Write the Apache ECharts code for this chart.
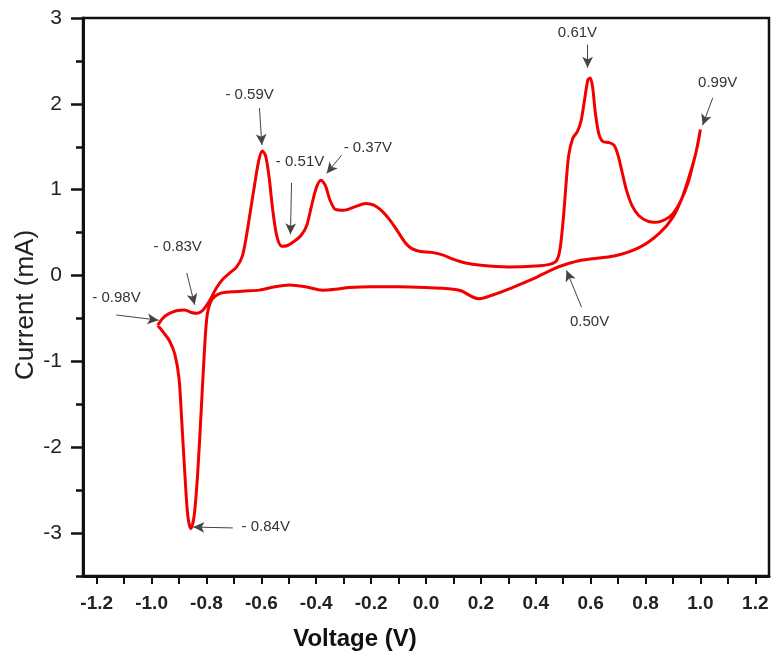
<!DOCTYPE html>
<html>
<head>
<meta charset="utf-8">
<script src="https://cdn.jsdelivr.net/npm/echarts@6/dist/echarts.min.js"></script>
<style>
  html, body { margin: 0; padding: 0; background: #fff; }
  #chart { width: 772px; height: 656px; }
</style>
</head>
<body>
<div id="chart"></div>
<script>
// forward (anodic) scan, from the left vertex to 1.0 V
var forwardVoltage = [-0.978, -0.96, -0.94, -0.91, -0.88, -0.855, -0.835, -0.815, -0.79, -0.765,
    -0.74, -0.715, -0.69, -0.67, -0.655, -0.64, -0.625, -0.61, -0.597, -0.585,
    -0.572, -0.558, -0.543, -0.525, -0.505, -0.48, -0.455, -0.435, -0.418, -0.40,
    -0.383, -0.367, -0.35, -0.33, -0.30, -0.26, -0.22, -0.19, -0.16, -0.13,
    -0.10, -0.075, -0.05, -0.02, 0.02, 0.06, 0.10, 0.14, 0.20, 0.30,
    0.40, 0.45, 0.475, 0.488, 0.50, 0.51, 0.52, 0.535, 0.552, 0.565,
    0.578, 0.59, 0.598, 0.607, 0.617, 0.63, 0.645, 0.665, 0.685, 0.70,
    0.715, 0.73, 0.75, 0.775, 0.81, 0.84, 0.87, 0.90, 0.93, 0.955,
    0.975, 0.99, 1.0];
var forwardCurrent = [-0.58, -0.50, -0.45, -0.41, -0.40, -0.43, -0.44, -0.41, -0.30, -0.15,
    -0.04, 0.03, 0.10, 0.22, 0.45, 0.75, 1.05, 1.33, 1.45, 1.40,
    1.15, 0.75, 0.45, 0.34, 0.35, 0.40, 0.47, 0.58, 0.80, 1.02,
    1.11, 1.05, 0.88, 0.77, 0.76, 0.80, 0.84, 0.82, 0.75, 0.64,
    0.50, 0.38, 0.31, 0.28, 0.27, 0.24, 0.19, 0.15, 0.12, 0.10,
    0.11, 0.13, 0.17, 0.30, 0.65, 1.05, 1.40, 1.60, 1.68, 1.80,
    2.05, 2.28, 2.30, 2.20, 1.90, 1.65, 1.56, 1.55, 1.52, 1.40,
    1.20, 1.00, 0.82, 0.70, 0.63, 0.62, 0.65, 0.72, 0.88, 1.08,
    1.32, 1.52, 1.70];

// reverse (cathodic) scan, from 1.0 V back to the left vertex
var reverseVoltage = [0.985, 0.97, 0.935, 0.90, 0.85, 0.78, 0.69, 0.57, 0.50, 0.46,
    0.39, 0.315, 0.24, 0.195, 0.17, 0.13, 0.10, 0.0, -0.1, -0.2,
    -0.28, -0.33, -0.377, -0.44, -0.497, -0.55, -0.607, -0.66, -0.705, -0.752,
    -0.78, -0.797, -0.807, -0.818, -0.832, -0.845, -0.857, -0.868, -0.879, -0.89,
    -0.90, -0.915, -0.935, -0.955, -0.978];
var reverseCurrent = [1.45, 1.27, 0.92, 0.68, 0.49, 0.33, 0.23, 0.18, 0.12, 0.07,
    -0.04, -0.14, -0.23, -0.27, -0.25, -0.18, -0.16, -0.14, -0.13, -0.13,
    -0.14, -0.16, -0.17, -0.13, -0.11, -0.13, -0.17, -0.18, -0.19, -0.21,
    -0.28, -0.45, -0.85, -1.50, -2.30, -2.80, -2.95, -2.80, -2.30, -1.70,
    -1.20, -0.92, -0.76, -0.67, -0.58];

var xTickLabels = [-1.2, -1.0, -0.8, -0.6, -0.4, -0.2, 0.0, 0.2, 0.4, 0.6, 0.8, 1.0, 1.2];
var xTicks = [-1.2, -1.1, -1.0, -0.9, -0.8, -0.7, -0.6, -0.5, -0.4, -0.3, -0.2, -0.1, 0.0,
    0.1, 0.2, 0.3, 0.4, 0.5, 0.6, 0.7, 0.8, 0.9, 1.0, 1.1, 1.2];
var yTickLabels = [-3, -2, -1, 0, 1, 2, 3];
var yMinorTicks = [-3.5, -2.5, -1.5, -0.5, 0.5, 1.5, 2.5];

// peak annotations: text, text centre, arrow tail, arrow head (data units)
var annotations = [
    { text: '0.61V',   at: [0.552, 2.83],   from: [0.589, 2.69],   to: [0.589, 2.42] },
    { text: '0.99V',   at: [1.063, 2.25],   from: [1.045, 2.07],   to: [1.008, 1.75] },
    { text: '0.50V',   at: [0.596, -0.54],  from: [0.567, -0.37],  to: [0.512, 0.06] },
    { text: '- 0.59V', at: [-0.643, 2.10],  from: [-0.607, 1.95],  to: [-0.598, 1.52] },
    { text: '- 0.51V', at: [-0.459, 1.32],  from: [-0.49, 1.08],   to: [-0.494, 0.48] },
    { text: '- 0.37V', at: [-0.212, 1.49],  from: [-0.308, 1.40],  to: [-0.362, 1.19] },
    { text: '- 0.83V', at: [-0.905, 0.33],  from: [-0.872, 0.03],  to: [-0.843, -0.34] },
    { text: '- 0.98V', at: [-1.128, -0.26], from: [-1.128, -0.46], to: [-0.975, -0.52] },
    { text: '- 0.84V', at: [-0.584, -2.93], from: [-0.704, -2.94], to: [-0.848, -2.93] }
];

var loop = [];
forwardVoltage.forEach(function (v, i) { loop.push([v, forwardCurrent[i]]); });
reverseVoltage.forEach(function (v, i) { loop.push([v, reverseCurrent[i]]); });

var arrows = annotations.map(function (a) {
    return [{ coord: a.from, symbol: 'none' }, { coord: a.to, symbol: 'arrow' }];
});

var chart = echarts.init(document.getElementById('chart'));
var option = {
    animation: false,
    backgroundColor: '#fff',
    grid: {
        left: 83, right: 3, top: 18, bottom: 80,
        show: true, borderColor: '#111', borderWidth: 2.5,
        containLabel: false, outerBoundsMode: 'none'
    },
    xAxis: {
        type: 'value',
        min: -1.25, max: 1.25,
        name: 'Voltage (V)',
        nameLocation: 'middle',
        nameGap: 51,
        nameTextStyle: { fontFamily: 'Liberation Sans', fontSize: 24, fontWeight: 'bold', color: '#111', padding: [0, 142, 0, 0] },
        axisLine: { show: true, onZero: false, lineStyle: { color: '#111', width: 3 } },
        axisTick: { show: true, customValues: xTicks, length: 8, lineStyle: { color: '#111', width: 2 } },
        axisLabel: {
            customValues: xTickLabels, margin: 18,
            fontFamily: 'Liberation Sans', fontSize: 19, fontWeight: 'bold', color: '#222',
            formatter: function (v) { return v.toFixed(1); }
        },
        splitLine: { show: false }
    },
    yAxis: [{
        type: 'value',
        min: -3.5, max: 3,
        name: 'Current (mA)',
        nameLocation: 'middle',
        nameGap: 44,
        nameMoveOverlap: false,
        nameTextStyle: { fontFamily: 'Liberation Sans', fontSize: 26, color: '#222', padding: [0, 16, 0, 0] },
        axisLine: { show: true, onZero: false, lineStyle: { color: '#111', width: 3 } },
        axisTick: { show: true, customValues: yTickLabels, length: 12, lineStyle: { color: '#111', width: 2.5 } },
        axisLabel: {
            customValues: yTickLabels, margin: 21,
            fontFamily: 'Liberation Sans', fontSize: 21, color: '#222'
        },
        splitLine: { show: false }
    }, {
        type: 'value',
        position: 'left',
        min: -3.5, max: 3,
        axisLine: { show: false, onZero: false },
        axisTick: { show: true, customValues: yMinorTicks, length: 7, lineStyle: { color: '#111', width: 2.5 } },
        axisLabel: { show: false },
        splitLine: { show: false }
    }],
    series: [{
        type: 'line',
        data: loop,
        smooth: 0.3,
        showSymbol: false,
        symbol: 'none',
        lineStyle: { color: '#f20000', width: 3 },
        markLine: {
            silent: true,
            symbolSize: [8, 11],
            label: { show: false },
            lineStyle: { color: '#444', width: 1, type: 'solid' },
            data: arrows
        }
    }]
};
chart.setOption(option);

var texts = annotations.map(function (a) {
    var p = chart.convertToPixel({ gridIndex: 0 }, a.at);
    return {
        type: 'text',
        x: p[0], y: p[1],
        style: {
            text: a.text,
            fill: '#333',
            font: '15px "Liberation Sans"',
            align: 'center',
            verticalAlign: 'middle'
        }
    };
});
chart.setOption({ graphic: texts });
</script>
</body>
</html>
